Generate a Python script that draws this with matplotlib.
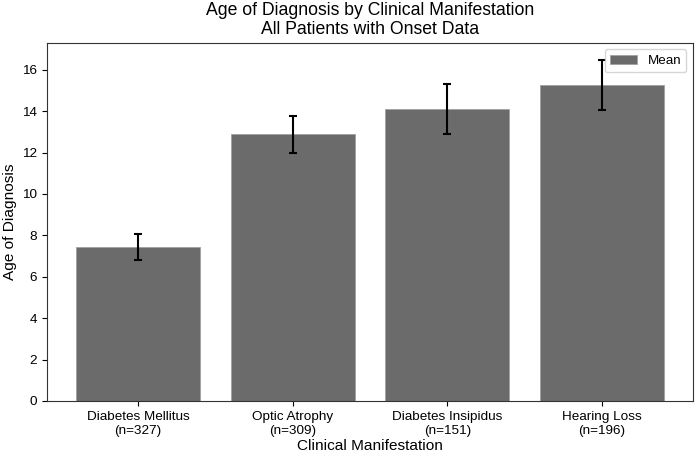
import matplotlib
matplotlib.use("Agg")
import matplotlib.pyplot as plt
import numpy as np

plt.rcParams['font.family'] = ['Liberation Sans', 'DejaVu Sans']

categories = ["Diabetes Mellitus\n(n=327)", "Optic Atrophy\n(n=309)",
              "Diabetes Insipidus\n(n=151)", "Hearing Loss\n(n=196)"]
means = [7.43, 12.87, 14.1, 15.26]
errors = [0.63, 0.9, 1.21, 1.22]

fig = plt.figure(figsize=(7, 4.58), dpi=100)
ax = fig.add_axes([0.0671, 0.1245, 0.9229, 0.7823])
x = np.arange(len(categories))
ax.bar(x, means, width=0.8, color='#6b6b6b', edgecolor='#a0a0a0', linewidth=0.6,
       yerr=errors, capsize=3,
       error_kw=dict(ecolor='black', elinewidth=1.5, capthick=1.5), label='Mean')
ax.set_xticks(x)
ax.set_xticklabels(categories, fontsize=9.7)
ax.tick_params(axis='y', labelsize=9.7)
ax.set_xlabel("Clinical Manifestation", fontsize=11.1, labelpad=2)
ax.set_ylabel("Age of Diagnosis", fontsize=11.1)
ax.set_title("Age of Diagnosis by Clinical Manifestation\nAll Patients with Onset Data", fontsize=12.7)
ax.legend(loc='upper right', fontsize=9.6)
for s in ax.spines.values():
    s.set_color('#333333')
fig.savefig("out.png", dpi=100)
